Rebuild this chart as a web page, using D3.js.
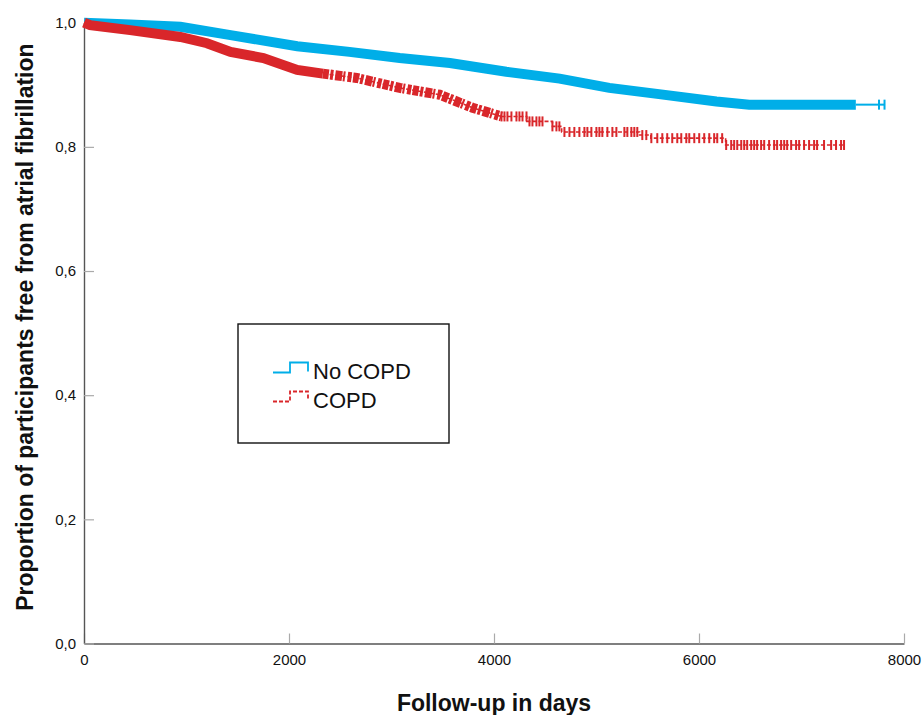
<!DOCTYPE html>
<html>
<head>
<meta charset="utf-8">
<script src="https://cdn.jsdelivr.net/npm/d3@7"></script>
<style>
  body { margin: 0; background: #fff; }
  text { font-family: Arial, "Liberation Sans", sans-serif; }
</style>
</head>
<body>
<div id="chart"></div>
<script>
// ticks
const xTicks = [0, 2000, 4000, 6000, 8000];
const yTicks = [0, 0.2, 0.4, 0.6, 0.8, 1.0];
const seriesNames = ["No COPD", "COPD"];

// No COPD: centre of the (censor-mark) band, [day, proportion]
const noCopdCurve = [[0, 1.0], [450, 0.997], [940, 0.9935], [1430, 0.980], [2080, 0.962],
  [2590, 0.953], [3080, 0.943], [3570, 0.935], [4120, 0.921], [4640, 0.910], [5125, 0.895],
  [5610, 0.885], [6170, 0.873], [6490, 0.868], [7530, 0.868]];
const noCopdTail = [[7530, 0.868], [7815, 0.868]];
const noCopdCensor = [7756, 7810];

// COPD
const copdCurve = [[0, 1.0], [60, 0.996], [450, 0.988], [940, 0.977], [1200, 0.967],
  [1430, 0.953], [1750, 0.943], [2080, 0.924], [2330, 0.918], [2660, 0.911], [3080, 0.895],
  [3470, 0.884], [3790, 0.863], [4073, 0.849]];
const copdSolidUntil = 2330;
const copdTail = [[4073, 0.849], [4320, 0.841], [4570, 0.833], [4660, 0.824], [5420, 0.819],
  [5530, 0.814], [6260, 0.803], [7415, 0.803]];
const copdCensor = [4073, 4102, 4131, 4170, 4219, 4248, 4278, 4317, 4346, 4375, 4414, 4443,
  4473, 4570, 4609, 4638, 4687, 4736, 4784, 4833, 4882, 4911, 4950, 4999, 5028, 5057, 5106,
  5155, 5194, 5272, 5301, 5340, 5369, 5398, 5447, 5486, 5535, 5593, 5642, 5690, 5739, 5788,
  5827, 5876, 5905, 5954, 6002, 6051, 6100, 6148, 6178, 6226, 6265, 6314, 6343, 6373, 6412,
  6441, 6470, 6509, 6538, 6567, 6606, 6636, 6684, 6733, 6762, 6801, 6831, 6860, 6899, 6947,
  6977, 7025, 7074, 7123, 7152, 7220, 7289, 7337, 7386, 7415];

const blue = "#00aee8";
const red = "#d9262a";

const width = 922, height = 715;

const svg = d3.select("#chart").append("svg")
    .attr("width", width)
    .attr("height", height);

const x = d3.scaleLinear().domain([0, 8000]).range([84, 904]);
const y = d3.scaleLinear().domain([0, 1]).range([643.5, 22.7]);

// axes
const xAxis = svg.append("g")
    .attr("transform", `translate(0,${y(0)})`)
    .call(d3.axisBottom(x).tickValues(xTicks).tickSize(-10).tickSizeOuter(0)
        .tickPadding(11).tickFormat(d3.format("d")));

const yAxis = svg.append("g")
    .attr("transform", `translate(${x(0)},0)`)
    .call(d3.axisLeft(y).tickValues(yTicks).tickSize(-10).tickSizeOuter(0)
        .tickPadding(8).tickFormat(d => d.toFixed(1).replace(".", ",")));

[xAxis, yAxis].forEach(g => {
  g.select(".domain").attr("stroke", "#555").attr("stroke-width", 1.4);
  g.selectAll(".tick line").attr("stroke", "#aaa").attr("stroke-width", 1.2);
  g.selectAll(".tick text").attr("font-size", 15).attr("fill", "#111")
      .attr("font-family", "Arial, 'Liberation Sans', sans-serif");
});

// axis titles
svg.append("text")
    .attr("x", (x(0) + x(8000)) / 2)
    .attr("y", 711)
    .attr("text-anchor", "middle")
    .attr("font-size", 23)
    .attr("font-weight", "bold")
    .attr("fill", "#111")
    .text("Follow-up in days");

svg.append("text")
    .attr("transform", `translate(33,${(y(0) + y(1)) / 2 - 6}) rotate(-90)`)
    .attr("text-anchor", "middle")
    .attr("font-size", 23)
    .attr("font-weight", "bold")
    .attr("fill", "#111")
    .text("Proportion of participants free from atrial fibrillation");

const smooth = d3.line().x(d => x(d[0])).y(d => y(d[1]));
const step = d3.line().x(d => x(d[0])).y(d => y(d[1])).curve(d3.curveStepAfter);

function survAt(steps, day) {
  let s = steps[0][1];
  steps.forEach(p => { if (p[0] <= day) s = p[1]; });
  return s;
}

function censorTicks(days, steps, col) {
  svg.append("g").selectAll("line")
    .data(days)
    .join("line")
      .attr("x1", d => x(d)).attr("x2", d => x(d))
      .attr("y1", d => y(survAt(steps, d)) - 5)
      .attr("y2", d => y(survAt(steps, d)) + 5)
      .attr("stroke", col)
      .attr("stroke-width", 2);
}

// No COPD
svg.append("path").datum(noCopdCurve)
    .attr("d", smooth).attr("fill", "none")
    .attr("stroke", blue).attr("stroke-width", 10);
svg.append("path").datum(noCopdTail)
    .attr("d", step).attr("fill", "none")
    .attr("stroke", blue).attr("stroke-width", 2);
censorTicks(noCopdCensor, noCopdTail, blue);

// COPD
svg.append("path").datum(copdCurve)
    .attr("d", smooth).attr("fill", "none")
    .attr("stroke", red).attr("stroke-width", 1.6).attr("stroke-dasharray", "4,2");
svg.append("path").datum(copdCurve.filter(d => d[0] <= copdSolidUntil))
    .attr("d", smooth).attr("fill", "none")
    .attr("stroke", red).attr("stroke-width", 10);
svg.append("path").datum(copdCurve.filter(d => d[0] >= copdSolidUntil))
    .attr("d", smooth).attr("fill", "none")
    .attr("stroke", red).attr("stroke-width", 10)
    .attr("stroke-dasharray", "6,1.5,3,2,7,1,2,2.5,4,1.5");
svg.append("path").datum(copdTail)
    .attr("d", step).attr("fill", "none")
    .attr("stroke", red).attr("stroke-width", 1.6).attr("stroke-dasharray", "4,2");
censorTicks(copdCensor, copdTail, red);

// legend
const legend = svg.append("g");
legend.append("rect")
    .attr("x", 238).attr("y", 324).attr("width", 211).attr("height", 119)
    .attr("fill", "#fff").attr("stroke", "#111").attr("stroke-width", 1.4);

const legendItems = [
  { name: seriesNames[0], col: blue, dash: null, y0: 372.5 },
  { name: seriesNames[1], col: red, dash: "4,2", y0: 401.5 }
];
legendItems.forEach(it => {
  legend.append("path")
      .attr("d", `M273,${it.y0} H290 V${it.y0 - 10} H308 V${it.y0 - 1}`)
      .attr("fill", "none")
      .attr("stroke", it.col)
      .attr("stroke-width", 1.8)
      .attr("stroke-dasharray", it.dash);
  legend.append("text")
      .attr("x", 313).attr("y", it.y0 + 6.5)
      .attr("font-size", 22)
      .attr("fill", "#111")
      .text(it.name);
});
</script>
</body>
</html>
